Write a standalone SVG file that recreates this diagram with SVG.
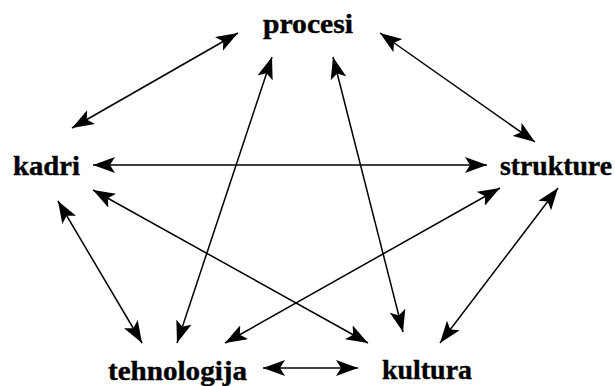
<svg xmlns="http://www.w3.org/2000/svg" width="615" height="386" viewBox="0 0 615 386">
  <style>
    .label { font-family: "Liberation Serif", "Times New Roman", serif; font-weight: bold; font-size: 27px; fill: #000; stroke: #000; stroke-width: 0.4; }
    .link { stroke: #000; stroke-width: 1.5; fill: none; marker-start: url(#head); marker-end: url(#head); }
  </style>
  <defs>
    <!-- double-ended arrowhead: wide filled triangle with a slight notch at the back -->
    <marker id="head" viewBox="0 0 22 16" refX="22" refY="8" markerWidth="22" markerHeight="16" markerUnits="userSpaceOnUse" orient="auto-start-reverse">
      <path d="M22,8 L0,0 L5,8 L0,16 z" fill="#000"/>
    </marker>
  </defs>
  <rect width="615" height="386" fill="#fff"/>

  <g id="connectors">
    <line class="link" x1="238" y1="33" x2="72" y2="128"/>
    <line class="link" x1="380" y1="33" x2="535" y2="142"/>
    <line class="link" x1="93" y1="165" x2="487" y2="165"/>
    <line class="link" x1="58" y1="201" x2="142" y2="343"/>
    <line class="link" x1="93" y1="190" x2="368" y2="343"/>
    <line class="link" x1="272" y1="57" x2="177" y2="343"/>
    <line class="link" x1="333" y1="57" x2="403" y2="332"/>
    <line class="link" x1="558" y1="188" x2="440" y2="343"/>
    <line class="link" x1="500" y1="188" x2="225" y2="343"/>
    <line class="link" x1="263" y1="368" x2="358" y2="368"/>
  </g>

  <g id="procesi"><text class="label" x="263" y="33" textLength="90" lengthAdjust="spacingAndGlyphs">procesi</text></g>
  <g id="kadri"><text class="label" x="13" y="175" textLength="67" lengthAdjust="spacingAndGlyphs">kadri</text></g>
  <g id="strukture"><text class="label" x="500" y="175" textLength="112" lengthAdjust="spacingAndGlyphs">strukture</text></g>
  <g id="tehnologija"><text class="label" x="108" y="380" textLength="139" lengthAdjust="spacingAndGlyphs">tehnologija</text></g>
  <g id="kultura"><text class="label" x="382" y="379" textLength="90" lengthAdjust="spacingAndGlyphs">kultura</text></g>
</svg>
